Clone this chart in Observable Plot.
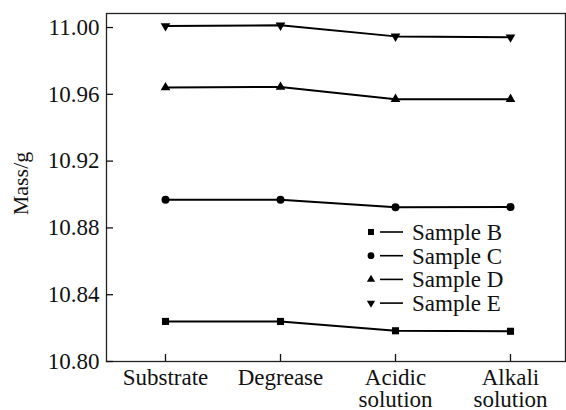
<!DOCTYPE html>
<html>
<head>
<meta charset="utf-8">
<script src="https://cdn.jsdelivr.net/npm/d3@7"></script>
<script src="https://cdn.jsdelivr.net/npm/@observablehq/plot@0.6"></script>
<style>
  html, body { margin: 0; padding: 0; background: #fff; }
  #chart { width: 566px; height: 410px; }
  #chart svg text { font-family: 'Liberation Serif', 'Times New Roman', serif; }
</style>
</head>
<body>
<div id="chart"></div>
<script>
const stages = ["Substrate", "Degrease", "Acidic solution", "Alkali solution"];
const stageLabels = ["Substrate", "Degrease", "Acidic\nsolution", "Alkali\nsolution"];
const samples = ["Sample B", "Sample C", "Sample D", "Sample E"];
const sampleSymbols = ["square", "circle", "triangle", "triangle-down"];
const massB = [10.824, 10.824, 10.8184, 10.8181];
const massC = [10.8968, 10.8968, 10.8924, 10.8925];
const massD = [10.9641, 10.9644, 10.9571, 10.9571];
const massE = [11.0009, 11.0013, 10.9947, 10.9942];
const yTicks = [10.80, 10.84, 10.88, 10.92, 10.96, 11.00];
const yLabel = "Mass/g";

const seriesValues = [massB, massC, massD, massE];
const rows = [];
samples.forEach((s, i) => stages.forEach((st, j) => rows.push({sample: s, stage: st, mass: seriesValues[i][j]})));

const FONT = "'Liberation Serif', 'Times New Roman', serif";
const d3Sym = {square: d3.symbolSquare, circle: d3.symbolCircle, triangle: d3.symbolTriangle, "triangle-down": d3.symbolTriangle};
const symR = {square: 4, circle: 4, triangle: 3.6, "triangle-down": 3.6};

function legend(index, scales, values, dims) {
  const g = d3.create("svg:g").attr("font-family", FONT).attr("font-size", 23).attr("text-anchor", "start");
  const x0 = 371, y0 = 232, step = 23.7;
  samples.forEach((s, i) => {
    const y = y0 + i * step;
    const sym = sampleSymbols[i];
    const r = symR[sym] * 0.85;
    g.append("path")
      .attr("d", d3.symbol(d3Sym[sym], Math.PI * r * r)())
      .attr("transform", `translate(${x0},${y})` + (sym === "triangle-down" ? " rotate(180)" : ""))
      .attr("fill", "black");
    g.append("line").attr("x1", x0 + 9).attr("x2", x0 + 32).attr("y1", y).attr("y2", y)
      .attr("stroke", "black").attr("stroke-width", 1.6);
    g.append("text").attr("x", x0 + 41).attr("y", y).attr("dy", "0.34em").attr("fill", "#111").text(s);
  });
  return g.node();
}

const chart = Plot.plot({
  width: 566,
  height: 410,
  marginLeft: 106,
  marginRight: 1,
  marginTop: 13,
  marginBottom: 49,
  style: {fontFamily: FONT, fontSize: "23px", background: "#fff", color: "#111"},
  x: {type: "point", domain: stages, range: [164, 511], padding: 0, label: null},
  y: {domain: [10.80, 11.0084], label: null},
  marks: [
    Plot.frame({stroke: "#222", strokeWidth: 1.3}),
    Plot.axisY({ticks: yTicks, tickFormat: d3.format(".2f"), tickSize: -7, tickPadding: 14, strokeWidth: 1.3, label: null, fontSize: 23, fontFamily: FONT}),
    Plot.axisX({tickFormat: (d) => stageLabels[stages.indexOf(d)], tickSize: -7, tickPadding: 15, strokeWidth: 1.3, label: null, fontSize: 23, fontFamily: FONT, lineHeight: 0.96}),
    Plot.text([yLabel], {text: (d) => d, frameAnchor: "left", textAnchor: "middle", lineAnchor: "middle", rotate: -90, dx: -86, dy: -4, fontSize: 22, fontFamily: FONT, fill: "#111"}),
    Plot.line(rows, {x: "stage", y: "mass", z: "sample", stroke: "black", strokeWidth: 2}),
    ...sampleSymbols.map((sym, i) => Plot.dot(rows.filter((d) => d.sample === samples[i]), {
      x: "stage", y: "mass",
      symbol: sym === "triangle-down" ? "triangle" : sym,
      rotate: sym === "triangle-down" ? 180 : 0,
      r: symR[sym], fill: "black", stroke: "none"
    })),
    legend
  ]
});
document.getElementById("chart").appendChild(chart);
</script>
</body>
</html>
